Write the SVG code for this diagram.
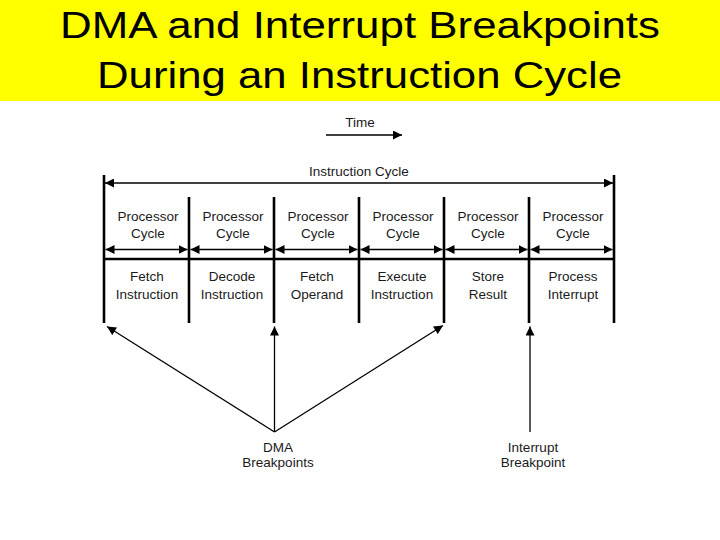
<svg xmlns="http://www.w3.org/2000/svg" width="720" height="540" viewBox="0 0 720 540">
<style>
.t{font-family:"Liberation Sans",Arial,sans-serif;font-size:13.5px;fill:#1a1a1a;text-anchor:middle}
.title{font-family:"Liberation Sans",Arial,sans-serif;font-size:37px;fill:#000}
.thin{stroke:#000;stroke-width:1.3;fill:none}
.thick{stroke:#000;stroke-width:2.6;fill:none}
</style>
<defs>
<marker id="ah" viewBox="0 0 10 10" refX="10" refY="5" markerWidth="10" markerHeight="9" markerUnits="userSpaceOnUse" orient="auto-start-reverse">
<path d="M0,0 L10,5 L0,10 Z" fill="#000"/>
</marker>
<marker id="ahs" viewBox="0 0 10 10" refX="10" refY="5" markerWidth="9" markerHeight="9" markerUnits="userSpaceOnUse" orient="auto-start-reverse">
<path d="M0,0 L10,5 L0,10 Z" fill="#000"/>
</marker>
</defs>
<rect width="720" height="540" fill="#fff"/>
<g id="title">
<rect x="0" y="0" width="720" height="101" fill="#ffff00"/>
<text class="title" x="60" y="37.5" textLength="600" lengthAdjust="spacingAndGlyphs">DMA and Interrupt Breakpoints</text>
<text class="title" x="97" y="87.5" textLength="525" lengthAdjust="spacingAndGlyphs">During an Instruction Cycle</text>
</g>
<g id="connectors">
<line class="thin" x1="326" y1="135" x2="402" y2="135" marker-end="url(#ah)"/>
<line class="thin" x1="105" y1="183" x2="613" y2="183" marker-start="url(#ah)" marker-end="url(#ah)"/>
<line class="thin" x1="105.5" y1="249.5" x2="187.5" y2="249.5" marker-start="url(#ahs)" marker-end="url(#ahs)"/>
<line class="thin" x1="190.5" y1="249.5" x2="272.5" y2="249.5" marker-start="url(#ahs)" marker-end="url(#ahs)"/>
<line class="thin" x1="275.5" y1="249.5" x2="357.5" y2="249.5" marker-start="url(#ahs)" marker-end="url(#ahs)"/>
<line class="thin" x1="360.5" y1="249.5" x2="442.5" y2="249.5" marker-start="url(#ahs)" marker-end="url(#ahs)"/>
<line class="thin" x1="445.5" y1="249.5" x2="527.5" y2="249.5" marker-start="url(#ahs)" marker-end="url(#ahs)"/>
<line class="thin" x1="530.5" y1="249.5" x2="612.5" y2="249.5" marker-start="url(#ahs)" marker-end="url(#ahs)"/>
<line class="thin" x1="274.5" y1="432" x2="107" y2="326.5" marker-end="url(#ah)"/>
<line class="thin" x1="274.5" y1="432" x2="274.5" y2="326.5" marker-end="url(#ah)"/>
<line class="thin" x1="274.5" y1="432" x2="443" y2="325.5" marker-end="url(#ah)"/>
<line class="thin" x1="530" y1="432" x2="530" y2="326.5" marker-end="url(#ah)"/>
</g>
<g id="frame">
<line class="thick" x1="104" y1="175" x2="104" y2="323"/>
<line class="thick" x1="614" y1="175" x2="614" y2="323"/>
<line class="thick" x1="189" y1="197" x2="189" y2="323"/>
<line class="thick" x1="274" y1="197" x2="274" y2="323"/>
<line class="thick" x1="359" y1="197" x2="359" y2="323"/>
<line class="thick" x1="444" y1="197" x2="444" y2="323"/>
<line class="thick" x1="529" y1="197" x2="529" y2="323"/>
<line class="thick" x1="104" y1="259" x2="614" y2="259"/>
</g>
<g id="time"><text class="t" x="360" y="127">Time</text></g>
<g id="instruction-cycle"><text class="t" x="359" y="176">Instruction Cycle</text></g>
<g id="cycle1"><text class="t" x="148" y="220.5">Processor</text><text class="t" x="148" y="238">Cycle</text><text class="t" x="147" y="281">Fetch</text><text class="t" x="147" y="298.5">Instruction</text></g>
<g id="cycle2"><text class="t" x="233" y="220.5">Processor</text><text class="t" x="233" y="238">Cycle</text><text class="t" x="232" y="281">Decode</text><text class="t" x="232" y="298.5">Instruction</text></g>
<g id="cycle3"><text class="t" x="318" y="220.5">Processor</text><text class="t" x="318" y="238">Cycle</text><text class="t" x="317" y="281">Fetch</text><text class="t" x="317" y="298.5">Operand</text></g>
<g id="cycle4"><text class="t" x="403" y="220.5">Processor</text><text class="t" x="403" y="238">Cycle</text><text class="t" x="402" y="281">Execute</text><text class="t" x="402" y="298.5">Instruction</text></g>
<g id="cycle5"><text class="t" x="488" y="220.5">Processor</text><text class="t" x="488" y="238">Cycle</text><text class="t" x="488" y="281">Store</text><text class="t" x="488" y="298.5">Result</text></g>
<g id="cycle6"><text class="t" x="573" y="220.5">Processor</text><text class="t" x="573" y="238">Cycle</text><text class="t" x="573" y="281">Process</text><text class="t" x="573" y="298.5">Interrupt</text></g>
<g id="dma"><text class="t" x="278" y="451.5">DMA</text><text class="t" x="278" y="467">Breakpoints</text></g>
<g id="interrupt"><text class="t" x="533" y="451.5">Interrupt</text><text class="t" x="533" y="467">Breakpoint</text></g>
</svg>
